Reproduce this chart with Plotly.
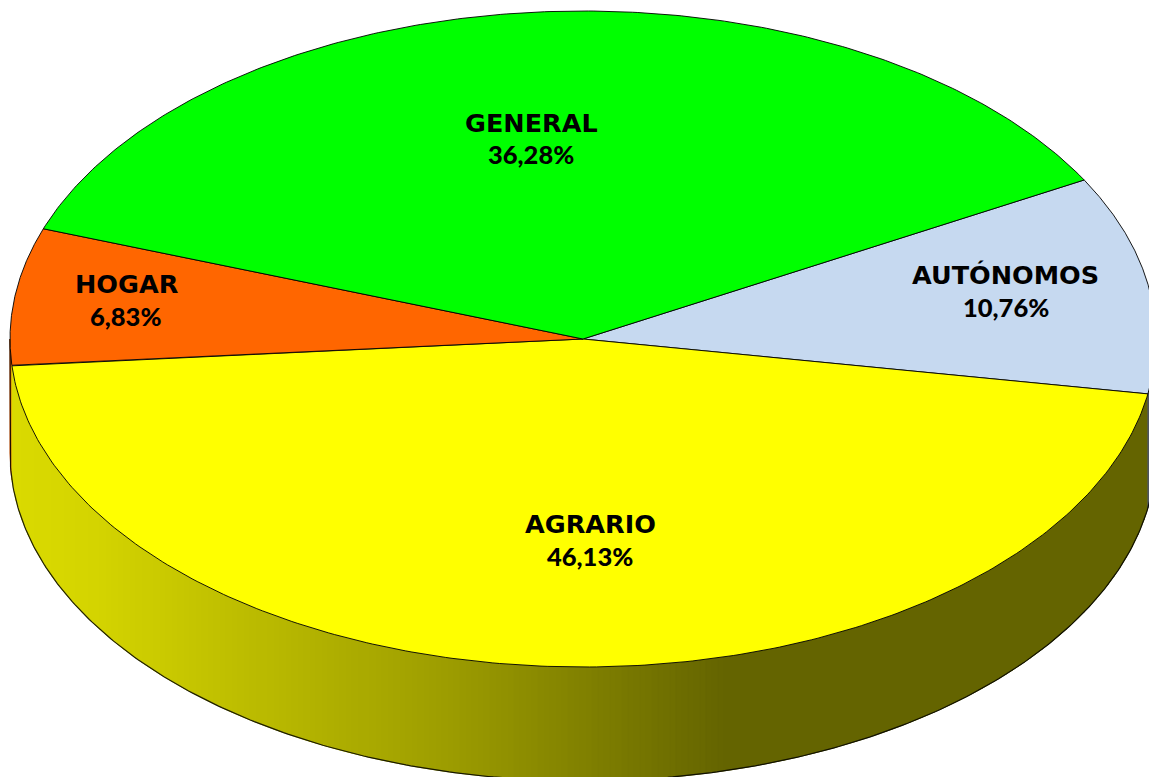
import numpy as np
import plotly.graph_objects as go

# --- data ---
labels = ["AUTÓNOMOS", "AGRARIO", "HOGAR", "GENERAL"]
values = [10.76, 46.13, 6.83, 36.28]
colors = [(198, 217, 240), (255, 255, 0), (255, 102, 0), (0, 255, 0)]

# --- layout of the tilted disc (pixels in the 1149x777 page) ---
W, H = 1149, 777
CX, CY, RX, RY = 583, 339, 573, 328
DEPTH = 114 / RY
START_DEG = 29.0
EDGE_NUDGE_DEG = [0.0, 0.1, 0.5, 0.75, 0.0]   # the tilted drawing's slight skew
NAME_POS = [(1005, 275), (590, 524), (127, 284), (531, 123)]
VALUE_POS = [(1006, 307), (590, 556), (126, 316), (531, 154)]


def px_x(p):
    return (p - CX) / RX


def px_y(p):
    return (CY - p) / RY


# slice limits in degrees, clockwise from the start angle
edges = START_DEG - 3.6 * np.concatenate([[0], np.cumsum(values)]) + np.array(EDGE_NUDGE_DEG)


def shade(x_px):
    """Side-wall light: brightness falls from left to right."""
    return np.interp(x_px, [0, 100, 204, 440, 590, 726, 1149],
                     [0.86, 0.83, 0.765, 0.62, 0.50, 0.392, 0.392])


fig = go.Figure()


def poly(xs, ys, fill, line_color, width):
    fig.add_trace(go.Scatter(
        x=xs, y=ys, mode="lines", fill="toself", fillcolor=fill,
        line=dict(color=line_color, width=width), hoverinfo="skip",
        showlegend=False))


# side wall: the lower half of the rim, cut into narrow shaded strips
x_grid = np.arange(-RX, RX + 1, 6.0) / RX
strip_deg = -np.degrees(np.arccos(x_grid))          # -180 ... 0
limits = [(e + 360) % 360 - 360 for e in edges]
breaks = np.unique(np.concatenate([
    strip_deg, [d for d in limits if -180 < d < 0]]))


def slice_at(deg):
    for i in range(len(values)):
        if edges[i + 1] <= deg <= edges[i]:
            return i
    return None


for a, b in zip(breaks[:-1], breaks[1:]):
    mid = (a + b) / 2
    i = slice_at(mid)
    if i is None:
        i = slice_at(mid + 360)
    if i is None:
        i = slice_at(mid - 360)
    t = np.radians(np.linspace(a, b, 5))
    xs = np.cos(t)
    ys = np.sin(t)
    k = shade(CX + RX * np.cos(np.radians(mid)))
    c = "rgb(%d,%d,%d)" % tuple(int(round(v * k)) for v in colors[i])
    poly(np.concatenate([xs, xs[::-1], xs[:1]]),
         np.concatenate([ys, ys[::-1] - DEPTH, ys[:1]]),
         c, c, 1)

# outline of the wall
t = np.radians(np.linspace(-180, 0, 361))
fig.add_trace(go.Scatter(
    x=np.concatenate([[-1], np.cos(t), [1]]),
    y=np.concatenate([[0], np.sin(t) - DEPTH, [0]]),
    mode="lines", line=dict(color="rgba(0,0,0,0.85)", width=1.2),
    hoverinfo="skip", showlegend=False))

# top face
for i in range(len(values)):
    t = np.radians(np.linspace(edges[i], edges[i + 1], 240))
    poly(np.concatenate([[0], np.cos(t), [0]]),
         np.concatenate([[0], np.sin(t), [0]]),
         "rgb(%d,%d,%d)" % colors[i], "rgba(0,0,0,0.9)", 1)

for name, val, (nx, ny), (vx, vy) in zip(labels, values, NAME_POS, VALUE_POS):
    fig.add_annotation(
        x=px_x(nx), y=px_y(ny), xref="x", yref="y", showarrow=False, text=name,
        font=dict(family="DejaVu Sans", size=25.5, color="#000000", weight=700))
    fig.add_annotation(
        x=px_x(vx), y=px_y(vy), xref="x", yref="y", showarrow=False,
        text=f"{val:.2f}%".replace(".", ","),
        font=dict(family="Lato", size=25.5, color="#000000", weight=900))

fig.update_layout(
    width=W, height=H, autosize=False, showlegend=False,
    margin=dict(l=0, r=0, t=0, b=0),
    paper_bgcolor="white", plot_bgcolor="white",
    xaxis=dict(range=[px_x(0), px_x(W)], visible=False, fixedrange=True),
    yaxis=dict(range=[px_y(H), px_y(0)], visible=False, fixedrange=True),
)
fig.write_html("out.html", config={"displayModeBar": False},
               post_script="document.body.style.margin='0';document.body.style.overflow='hidden';")
